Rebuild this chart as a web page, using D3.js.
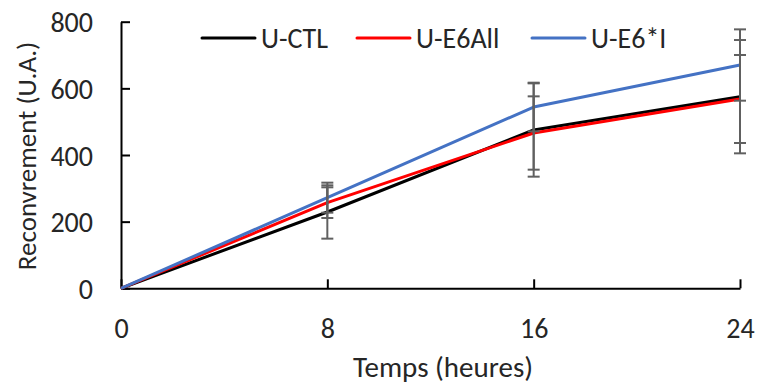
<!DOCTYPE html>
<html>
<head>
<meta charset="utf-8">
<script src="https://cdn.jsdelivr.net/npm/d3@7/dist/d3.min.js"></script>
<style>
  html, body { margin: 0; padding: 0; background: #fff; }
  svg { display: block; }
  text { font-family: Carlito, Lato, "Open Sans", sans-serif; fill: #262626; }
</style>
</head>
<body>
<svg id="chart" width="757" height="388"></svg>
<script>
// ---- data ----
const hours = [0, 8, 16, 24];
const seriesNames = ["U-CTL", "U-E6All", "U-E6*I"];
const ctlValues = [0, 229, 475, 575];
const e6allValues = [0, 257, 466, 568];
const e6iValues = [0, 272, 544, 670];
const ctlErrors = [0, 80, 140, 170];
const e6allErrors = [0, 46, 110, 132];
const e6iErrors = [0, 45, 73, 107];
const xTicks = [0, 8, 16, 24];
const yTicks = [0, 200, 400, 600, 800];
const colors = ["#000000", "#ff0000", "#4472c4"];

const series = [
  { name: seriesNames[0], values: ctlValues, errors: ctlErrors, color: colors[0] },
  { name: seriesNames[1], values: e6allValues, errors: e6allErrors, color: colors[1] },
  { name: seriesNames[2], values: e6iValues, errors: e6iErrors, color: colors[2] }
];

const svg = d3.select("#chart");
const x = d3.scaleLinear().domain([0, 24]).range([121, 740]);
const y = d3.scaleLinear().domain([0, 800]).range([288.3, 21.7]);

// axes
const xAxis = d3.axisBottom(x).tickValues(xTicks).tickSizeInner(-9).tickSizeOuter(0).tickPadding(0).tickFormat(d3.format("d"));
const gx = svg.append("g").attr("transform", `translate(0,${y(0)})`).call(xAxis);
gx.select(".domain").attr("stroke", "#000").attr("stroke-width", 2);
gx.selectAll(".tick line").attr("stroke", "#000").attr("stroke-width", 2);
gx.selectAll(".tick text").attr("y", 50).attr("dy", 0).attr("font-size", 28).style("fill", "#262626");

const yAxis = d3.axisLeft(y).tickValues(yTicks).tickSizeInner(-9).tickSizeOuter(0).tickPadding(0);
const gy = svg.append("g").attr("transform", `translate(${x(0)},0)`).call(yAxis);
gy.select(".domain").attr("stroke", "#000").attr("stroke-width", 2);
gy.selectAll(".tick line").attr("stroke", "#000").attr("stroke-width", 2);
gy.selectAll(".tick text").attr("x", -28).attr("dy", "0.36em").attr("font-size", 28).style("fill", "#262626");

// lines
const line = d3.line().x((d, i) => x(hours[i])).y(d => y(d));
series.forEach(s => {
  svg.append("path").datum(s.values).attr("d", line)
    .attr("fill", "none").attr("stroke", s.color).attr("stroke-width", 3)
    .attr("stroke-linejoin", "round");
});

// error bars
const errColor = "#606060";
series.forEach(s => {
  s.values.forEach((v, i) => {
    if (!s.errors[i]) return;
    const cx = x(hours[i]);
    const y1 = y(v + s.errors[i]), y2 = y(v - s.errors[i]);
    svg.append("line").attr("x1", cx).attr("x2", cx).attr("y1", y1).attr("y2", y2)
      .attr("stroke", errColor).attr("stroke-width", 2);
    [y1, y2].forEach(yy => {
      svg.append("line").attr("x1", cx - 6).attr("x2", cx + 6).attr("y1", yy).attr("y2", yy)
        .attr("stroke", errColor).attr("stroke-width", 2);
    });
  });
});

// legend
const legendX = [202, 357, 532];
series.forEach((s, i) => {
  const g = svg.append("g").attr("transform", `translate(${legendX[i]},38)`);
  g.append("line").attr("x1", 0).attr("x2", 53).attr("y1", 0).attr("y2", 0)
    .attr("stroke", s.color).attr("stroke-width", 3).attr("stroke-linecap", "round");
  g.append("text").attr("x", 59).attr("y", 0).attr("dy", "0.36em").attr("font-size", 28).text(s.name);
});

// axis titles
svg.append("text").attr("x", 443).attr("y", 377).attr("text-anchor", "middle")
  .attr("font-size", 29).text("Temps (heures)");
svg.append("text").attr("transform", `translate(36,156) rotate(-90)`).attr("text-anchor", "middle")
  .attr("font-size", 27).text("Reconvrement (U.A.)");
</script>
</body>
</html>
